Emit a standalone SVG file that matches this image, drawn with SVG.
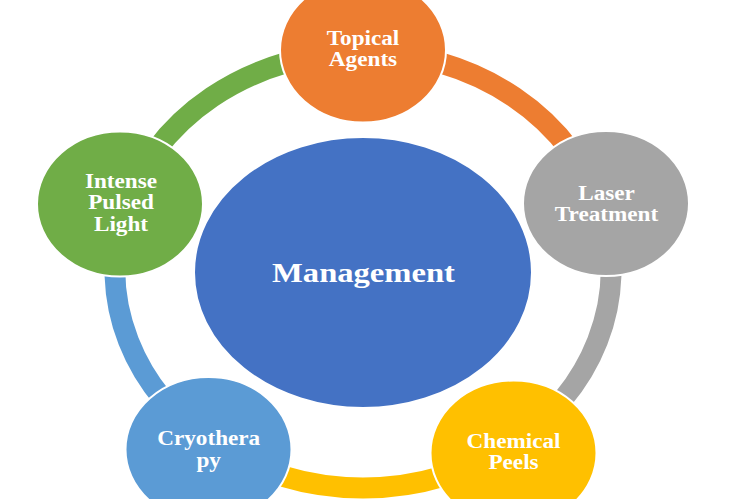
<svg xmlns="http://www.w3.org/2000/svg" width="750" height="499" viewBox="0 0 750 499">
<style>
.ring{fill:none;stroke-width:21;stroke-linecap:butt}
.node{stroke:#ffffff;stroke-width:2}
.lbl{font-family:"Liberation Serif","Times New Roman",serif;font-weight:bold;font-size:20px;fill:#ffffff;text-anchor:middle}
.main{font-size:28px}
</style>
<rect width="750" height="499" fill="#ffffff"/>
<g id="connectors">
<path class="ring" stroke="#ED7D31" d="M363,52 A248,218 0 0 1 602.55,213.58"/>
<path class="ring" stroke="#A5A5A5" d="M602.55,213.58 A248,218 0 0 1 512.25,444.1"/>
<path class="ring" stroke="#FFC000" d="M512.25,444.1 A248,218 0 0 1 213.75,444.1"/>
<path class="ring" stroke="#5B9BD5" d="M213.75,444.1 A248,218 0 0 1 123.45,213.58"/>
<path class="ring" stroke="#70AD47" d="M123.45,213.58 A248,218 0 0 1 363,52"/>
</g>
<g id="management">
<ellipse class="node" cx="363" cy="272.5" rx="169" ry="135.5" fill="#4472C4"/>
<text class="lbl main" transform="matrix(1.165 0 0 1 363.5 281.7)">Management</text>
</g>
<g id="topical-agents">
<ellipse class="node" cx="363" cy="50" rx="83" ry="72.5" fill="#ED7D31"/>
<text class="lbl" transform="matrix(1.16 0 0 1 363 45)">Topical</text>
<text class="lbl" transform="matrix(1.16 0 0 1 363 66)">Agents</text>
</g>
<g id="laser-treatment">
<ellipse class="node" cx="606" cy="203.5" rx="83" ry="72.5" fill="#A5A5A5"/>
<text class="lbl" transform="matrix(1.16 0 0 1 606.5 200)">Laser</text>
<text class="lbl" transform="matrix(1.16 0 0 1 606.5 220.7)">Treatment</text>
</g>
<g id="chemical-peels">
<ellipse class="node" cx="513.5" cy="453" rx="83" ry="72.5" fill="#FFC000"/>
<text class="lbl" transform="matrix(1.16 0 0 1 513.5 447.7)">Chemical</text>
<text class="lbl" transform="matrix(1.16 0 0 1 513.5 469)">Peels</text>
</g>
<g id="cryotherapy">
<ellipse class="node" cx="208.5" cy="449.5" rx="83" ry="72.5" fill="#5B9BD5"/>
<text class="lbl" transform="matrix(1.16 0 0 1 208.7 445)">Cryothera</text>
<text class="lbl" transform="matrix(1.16 0 0 1 208.7 466.7)">py</text>
</g>
<g id="intense-pulsed-light">
<ellipse class="node" cx="120" cy="204" rx="83" ry="72.5" fill="#70AD47"/>
<text class="lbl" transform="matrix(1.16 0 0 1 121 187.7)">Intense</text>
<text class="lbl" transform="matrix(1.16 0 0 1 121 209)">Pulsed</text>
<text class="lbl" transform="matrix(1.16 0 0 1 121 231)">Light</text>
</g>
</svg>
